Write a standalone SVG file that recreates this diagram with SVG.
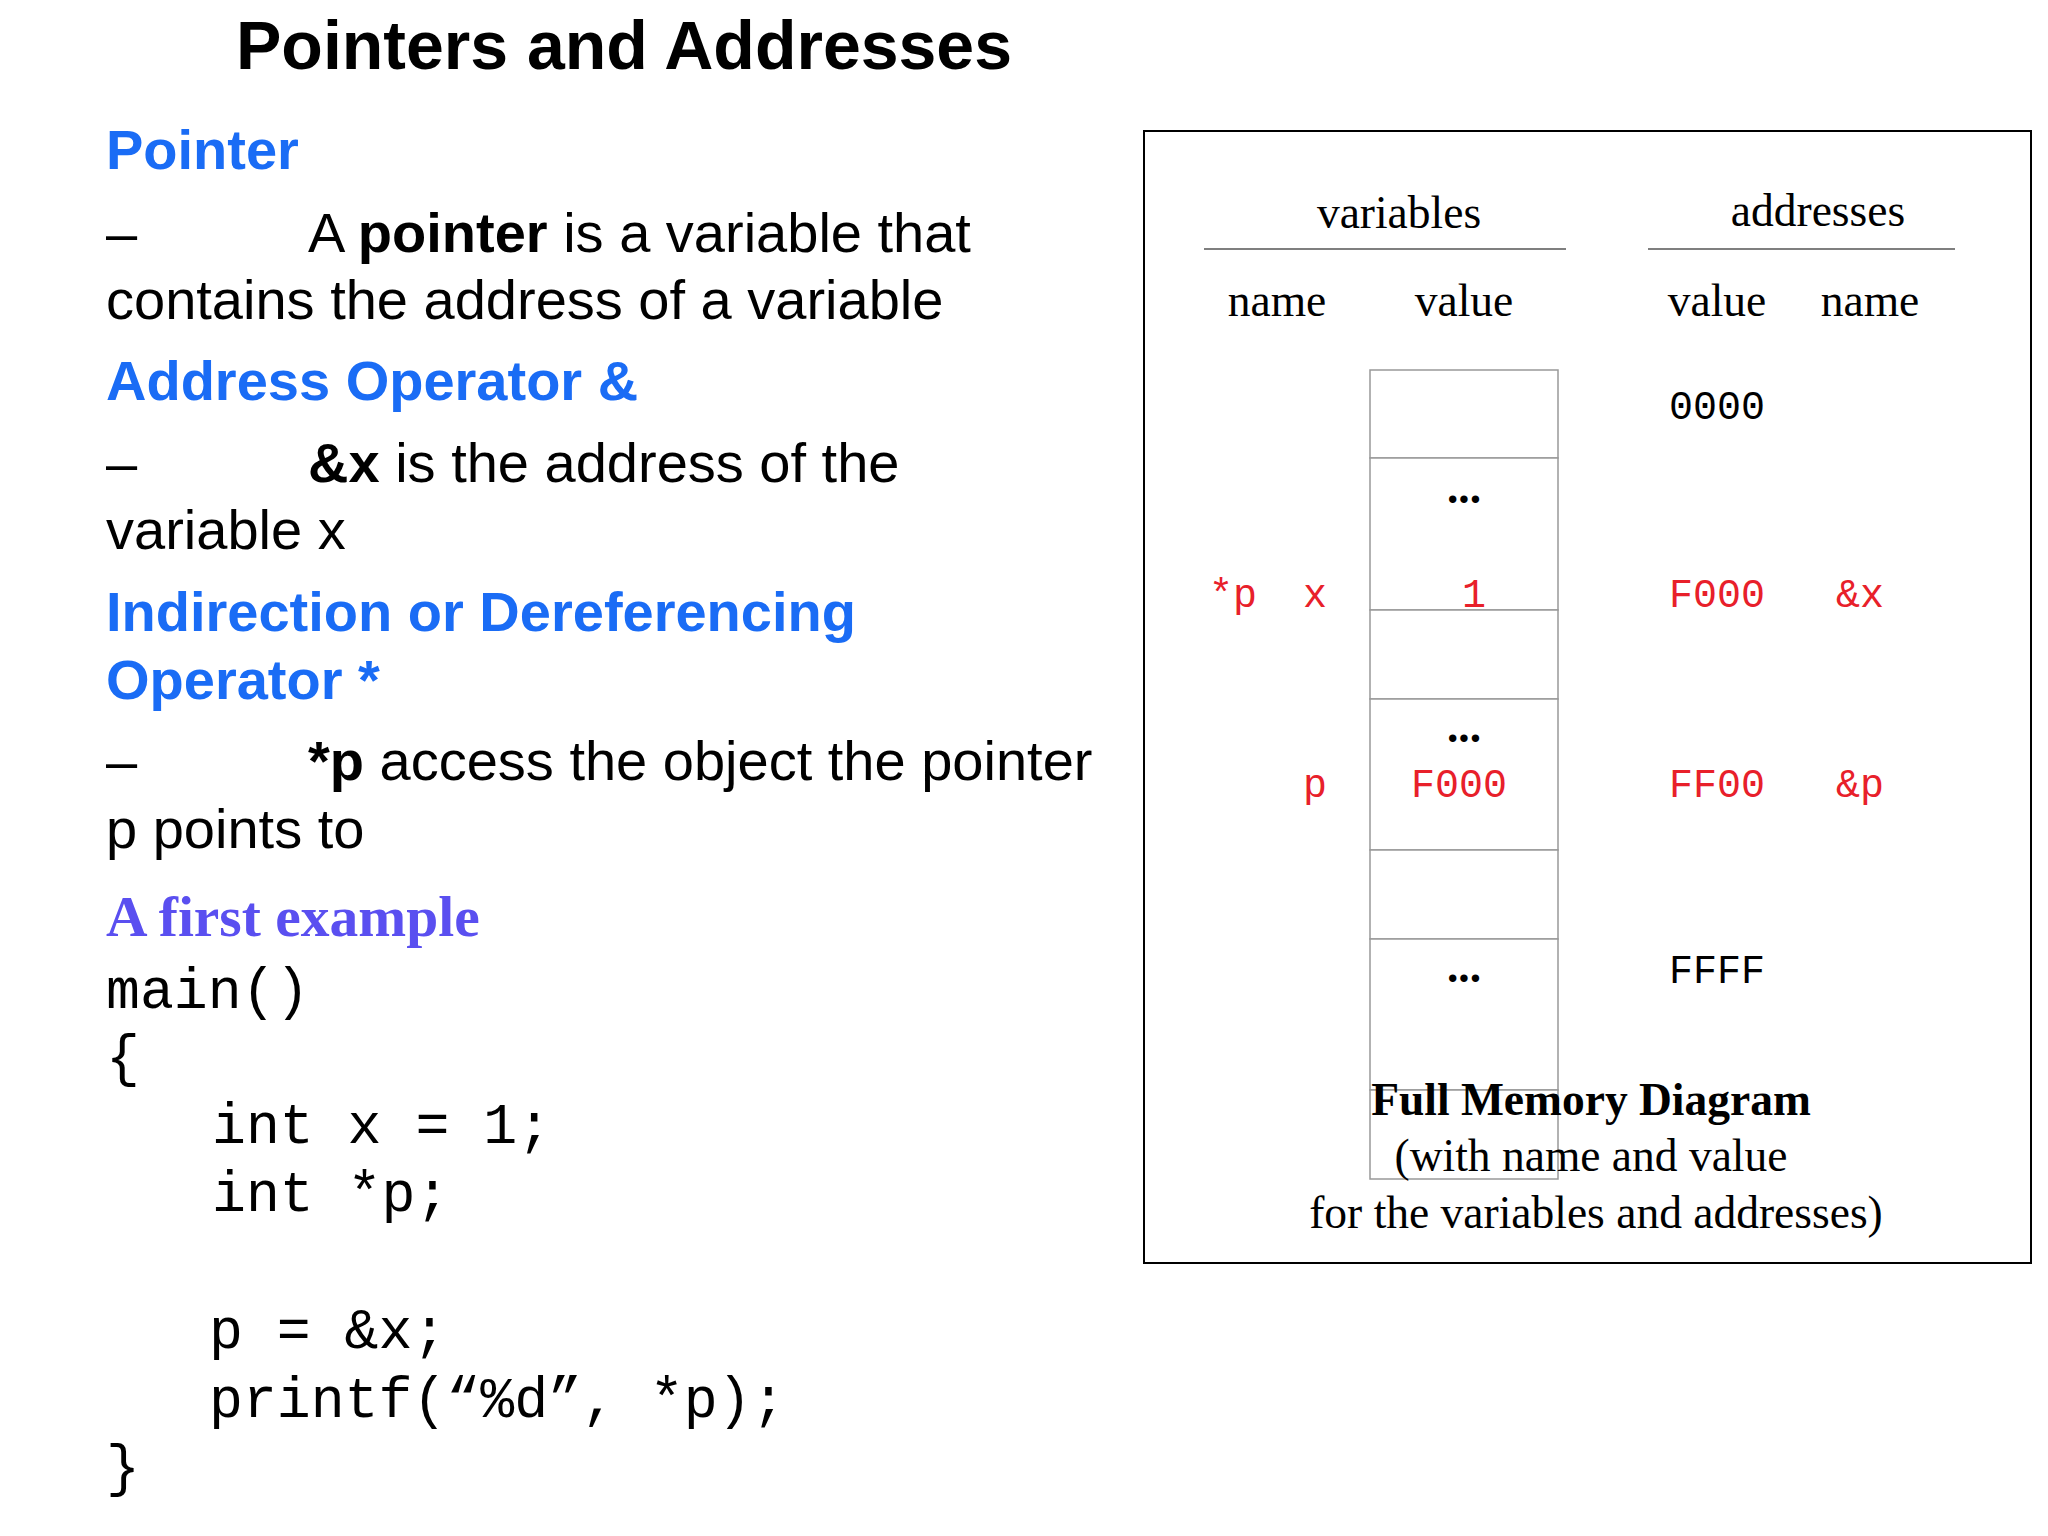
<svg xmlns="http://www.w3.org/2000/svg" width="2048" height="1536" viewBox="0 0 2048 1536">
<style>
.s{font-family:"Liberation Sans",Arial,sans-serif;font-size:56px;fill:#000}
.h{font-family:"Liberation Sans",Arial,sans-serif;font-size:56px;font-weight:bold;fill:#1a6cf5}
.m{font-family:"Liberation Mono","Courier New",monospace;font-size:56.5px;fill:#000}
.r{font-family:"Liberation Serif","Times New Roman",serif;font-size:45.5px;fill:#000;text-anchor:middle}
.d{font-family:"Liberation Mono","Courier New",monospace;font-size:40px;fill:#000;text-anchor:middle}
.red{fill:#e8202a}
.c{fill:#fff;stroke:#999;stroke-width:1.5}
</style>
<rect width="2048" height="1536" fill="#fff"/>
<text x="624" y="69" text-anchor="middle" style="font-family:'Liberation Sans',Arial,sans-serif;font-size:68px;font-weight:bold">Pointers and Addresses</text>
<g id="text">
<text class="h" x="106" y="169">Pointer</text>
<text class="s" x="106" y="252">–</text>
<text class="s" x="308" y="252">A <tspan font-weight="bold">pointer</tspan> is a variable that</text>
<text class="s" x="106" y="319">contains the address of a variable</text>
<text class="h" x="106" y="400">Address Operator &amp;</text>
<text class="s" x="106" y="482">–</text>
<text class="s" x="308" y="482"><tspan font-weight="bold">&amp;x</tspan> is the address of the</text>
<text class="s" x="106" y="549">variable x</text>
<text class="h" x="106" y="631">Indirection or Dereferencing</text>
<text class="h" x="106" y="699">Operator *</text>
<text class="s" x="106" y="780">–</text>
<text class="s" x="308" y="780"><tspan font-weight="bold">*p</tspan> access the object the pointer</text>
<text class="s" x="106" y="848">p points to</text>
<text x="106" y="936" style="font-family:'Liberation Serif','Times New Roman',serif;font-size:57.5px;font-weight:bold;fill:#5a4ff0">A first example</text>
</g>
<g id="code">
<text class="m" x="106" y="1008">main()</text>
<text class="m" x="106" y="1075">{</text>
<text class="m" x="212" y="1143">int x = 1;</text>
<text class="m" x="212" y="1211">int *p;</text>
<text class="m" x="209" y="1348">p = &amp;x;</text>
<text class="m" x="209" y="1417">printf(“%d”, *p);</text>
<text class="m" x="106" y="1485">}</text>
</g>
<g id="diagram">
<rect x="1144" y="131" width="887" height="1132" fill="none" stroke="#000" stroke-width="2"/>
<text class="r" x="1399" y="228" font-size="51">variables</text>
<text class="r" x="1818" y="226" font-size="51">addresses</text>
<line x1="1204" y1="249" x2="1566" y2="249" stroke="#555" stroke-width="1.5"/>
<line x1="1648" y1="249" x2="1955" y2="249" stroke="#555" stroke-width="1.5"/>
<text class="r" x="1277" y="316">name</text>
<text class="r" x="1464" y="316">value</text>
<text class="r" x="1717" y="316">value</text>
<text class="r" x="1870" y="316">name</text>
<g id="cells">
<rect class="c" x="1370" y="370" width="188" height="88"/>
<rect class="c" x="1370" y="458" width="188" height="152"/>
<rect class="c" x="1370" y="610" width="188" height="89"/>
<rect class="c" x="1370" y="699" width="188" height="151"/>
<rect class="c" x="1370" y="850" width="188" height="89"/>
<rect class="c" x="1370" y="939" width="188" height="151"/>
<rect class="c" x="1370" y="1090" width="188" height="89"/>
</g>
<text class="r" x="1464" y="503" font-weight="bold">...</text>
<text class="r" x="1464" y="742" font-weight="bold">...</text>
<text class="r" x="1464" y="982" font-weight="bold">...</text>
<text class="d" x="1717" y="419">0000</text>
<text class="d red" x="1233" y="607">*p</text>
<text class="d red" x="1315" y="607">x</text>
<text class="d red" x="1474" y="607">1</text>
<text class="d red" x="1717" y="607">F000</text>
<text class="d red" x="1860" y="607">&amp;x</text>
<text class="d red" x="1315" y="797">p</text>
<text class="d red" x="1459" y="797">F000</text>
<text class="d red" x="1717" y="797">FF00</text>
<text class="d red" x="1860" y="797">&amp;p</text>
<text class="d" x="1717" y="983">FFFF</text>
<text class="r" x="1591" y="1115" font-size="64" font-weight="bold">Full Memory Diagram</text>
<text class="r" x="1591" y="1171">(with name and value</text>
<text class="r" x="1596" y="1228">for the variables and addresses)</text>
</g>
</svg>
